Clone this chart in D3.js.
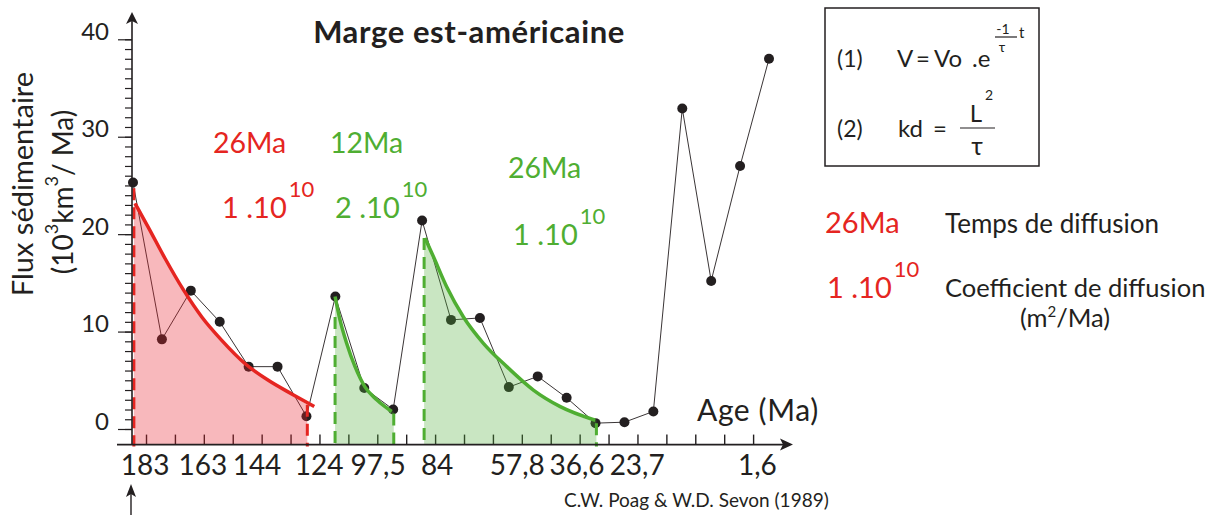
<!DOCTYPE html>
<html>
<head>
<meta charset="utf-8">
<script src="https://cdn.jsdelivr.net/npm/d3@7"></script>
<style>
  html, body { margin: 0; padding: 0; background: #fff; }
  svg { display: block; font-family: Lato, "Open Sans", sans-serif; }
</style>
</head>
<body>
<svg id="chart" width="1219" height="515"></svg>
<script>
// ---------- DATA ----------
// Sedimentary flux samples (10^3 km^3 / Ma), ordered from oldest (183 Ma) to youngest
const flux = [25.3, 9.2, 14.2, 11.0, 6.4, 6.4, 1.3, 13.6, 4.2, 2.0, 21.4, 11.2, 11.4, 4.3, 5.4, 3.2, 0.6, 0.7, 1.8, 32.9, 15.2, 27.0, 38.0];
// Age tick labels and where they sit along the sample axis (sample index)
const ageTicks = ["183", "163", "144", "124", "97,5", "84", "57,8", "36,6", "23,7", "1,6"];
const ageTickAt = [0.42, 2.42, 4.29, 6.44, 8.48, 10.52, 13.29, 15.36, 17.44, 21.6];
const yTicks = [0, 10, 20, 30, 40];

// Diffusion fit curves (sample index, flux)
const redFitAt = [0.07, 0.53, 1.11, 1.74, 2.38, 3.07, 3.88, 4.68, 5.49, 6.27];
const redFitV  = [23.15, 20.7, 17.5, 14.3, 11.5, 9.1, 6.7, 5.0, 3.6, 2.3];
const green1FitAt = [6.99, 7.16, 7.39, 7.68, 8.03, 8.43, 8.95];
const green1FitV  = [13.6, 11.2, 8.8, 6.4, 4.3, 3.0, 1.8];
const green2FitAt = [10.1, 10.39, 10.85, 11.43, 12.12, 12.93, 13.85, 14.78, 15.99];
const green2FitV  = [19.6, 17.7, 14.6, 11.5, 8.8, 6.4, 4.0, 2.3, 0.9];

// Extent of each diffusion episode (sample index) and dashed marker tops (flux)
const episodeStart = [0.03, 6.99, 10.07];
const episodeEnd   = [6.03, 9.02, 16.03];
const startTop = [24.7, 11.5, 19.6];
const endTop   = [2.5, 1.6, 0.6];

// Annotation texts
const episodeTime = ["26Ma", "12Ma", "26Ma"];
const episodeCoef = ["1 .10", "2 .10", "1 .10"];
const episodeExp  = ["10", "10", "10"];

// ---------- SETUP ----------
const RED = "#e52521", GREEN = "#4fae32", INK = "#231f20";
const svg = d3.select("#chart");
const x = d3.scaleLinear().domain([0, 22]).range([133, 769]);
const y = d3.scaleLinear().domain([0, 40]).range([429, 39.3]);
const axisY = y(-1.6);     // x axis baseline
const yAxisX = 132;

const defs = svg.append("defs");

// ---------- AXES ----------
const gy = svg.append("g").attr("transform", `translate(${yAxisX},0)`);
gy.call(d3.axisLeft(y).tickValues(d3.range(0, 41, 1)).tickSize(7).tickFormat(""))
  .call(g => g.select(".domain").remove())
  .call(g => g.selectAll("line").attr("stroke", INK).attr("stroke-width", 1.2));
const gyMaj = svg.append("g").attr("transform", `translate(${yAxisX},0)`);
gyMaj.call(d3.axisLeft(y).tickValues(yTicks).tickSize(14).tickPadding(9))
  .call(g => g.select(".domain").remove())
  .call(g => g.selectAll("line").attr("stroke", INK).attr("stroke-width", 1.2))
  .call(g => g.selectAll("text").attr("dy", "0").attr("fill", INK)
    .style("font-size", "24px").style("font-family", "Lato, sans-serif"));

const tickIdx = d3.range(0, 22).map(k => k + 0.45);
const gx = svg.append("g").attr("transform", `translate(0,${axisY})`);
gx.call(d3.axisTop(x).tickValues(tickIdx).tickSize(10).tickFormat(""))
  .call(g => g.select(".domain").remove())
  .call(g => g.selectAll("line").attr("stroke", INK).attr("stroke-width", 1.4));

// ---------- DATA LINE + POINTS ----------
const line = d3.line().x((d, i) => x(i)).y(d => y(d));
svg.append("path").datum(flux).attr("d", line)
  .attr("fill", "none").attr("stroke", "#3a3536").attr("stroke-width", 1);
svg.append("g").selectAll("circle").data(flux).join("circle")
  .attr("cx", (d, i) => x(i)).attr("cy", d => y(d)).attr("r", 5).attr("fill", INK);

// ---------- EPISODES ----------
const fits = [
  { at: redFitAt, v: redFitV, color: RED, fill: "#e8222f", op: 0.32 },
  { at: green1FitAt, v: green1FitV, color: GREEN, fill: "#52ae3a", op: 0.31 },
  { at: green2FitAt, v: green2FitV, color: GREEN, fill: "#52ae3a", op: 0.31 }
];
fits.forEach((f, k) => {
  const pts = f.at.map((a, i) => [a, f.v[i]]);
  const clipId = "clip" + k;
  defs.append("clipPath").attr("id", clipId).append("rect")
    .attr("x", x(episodeStart[k])).attr("y", 0)
    .attr("width", x(episodeEnd[k]) - x(episodeStart[k])).attr("height", 515);
  const area = d3.area().curve(d3.curveMonotoneX)
    .x(d => x(d[0])).y0(axisY).y1(d => y(d[1]));
  const ext = [[pts[0][0] - 0.3, pts[0][1]], ...pts, [pts[pts.length - 1][0] + 0.4, pts[pts.length - 1][1]]];
  svg.append("path").datum(ext).attr("d", area)
    .attr("clip-path", `url(#${clipId})`)
    .attr("fill", f.fill).attr("fill-opacity", f.op);
  [[episodeStart[k], startTop[k]], [episodeEnd[k], endTop[k]]].forEach(([a, v]) => {
    svg.append("line").attr("x1", x(a)).attr("x2", x(a))
      .attr("y1", y(v)).attr("y2", axisY + 2)
      .attr("stroke", f.color).attr("stroke-width", 3)
      .attr("stroke-dasharray", "12,7");
  });
  const fitLine = d3.line().curve(d3.curveMonotoneX).x(d => x(d[0])).y(d => y(d[1]));
  svg.append("path").datum(pts).attr("d", fitLine)
    .attr("fill", "none").attr("stroke", f.color).attr("stroke-width", 3.5);
});

// axis lines and arrows
svg.append("line").attr("x1", yAxisX).attr("x2", yAxisX).attr("y1", 20).attr("y2", axisY)
  .attr("stroke", INK).attr("stroke-width", 1.6);
svg.append("path").attr("d", `M${yAxisX},12 L${yAxisX + 6},24 L${yAxisX},21 L${yAxisX - 6},24 Z`).attr("fill", INK);
svg.append("line").attr("x1", 117).attr("x2", 785).attr("y1", axisY).attr("y2", axisY)
  .attr("stroke", INK).attr("stroke-width", 1.6);
svg.append("path").attr("d", `M793,${axisY} L780,${axisY - 6} L783,${axisY} L780,${axisY + 6} Z`).attr("fill", INK);
svg.append("line").attr("x1", 131).attr("x2", 131).attr("y1", 492).attr("y2", 515)
  .attr("stroke", INK).attr("stroke-width", 1.4);
svg.append("path").attr("d", `M131,484 L136,497 L131,494 L126,497 Z`).attr("fill", INK);

svg.append("g").selectAll("text").data(ageTicks).join("text")
  .attr("x", (d, i) => x(ageTickAt[i])).attr("y", 475)
  .attr("text-anchor", "middle").attr("fill", INK)
  .style("font-size", "28px").text(d => d);

// ---------- TEXTS ----------
svg.append("text").attr("x", 469).attr("y", 43).attr("text-anchor", "middle")
  .attr("fill", INK).style("font-size", "31px").style("font-weight", "bold")
  .style("letter-spacing", "0.6px")
  .text("Marge est-américaine");

svg.append("text").attr("transform", "translate(33,184) rotate(-90)")
  .attr("text-anchor", "middle").attr("fill", INK).style("font-size", "29px")
  .text("Flux sédimentaire");
const yl2 = svg.append("text").attr("transform", "translate(73,192) rotate(-90)")
  .attr("text-anchor", "middle").attr("fill", INK).style("font-size", "28px");
yl2.append("tspan").text("(10");
yl2.append("tspan").attr("dy", -15).style("font-size", "18px").text("3");
yl2.append("tspan").attr("dy", 15).text("km");
yl2.append("tspan").attr("dy", -15).style("font-size", "18px").text("3");
yl2.append("tspan").attr("dy", 15).text("/ Ma)");

svg.append("text").attr("x", 697).attr("y", 421).attr("fill", INK)
  .style("font-size", "30px").style("letter-spacing", "0.6px").text("Age (Ma)");

svg.append("text").attr("x", 564).attr("y", 507).attr("fill", INK)
  .style("font-size", "19px").text("C.W. Poag & W.D. Sevon (1989)");

const annPos = [
  { tx: 213, ty: 153, cx: 222, cy: 218 },
  { tx: 330, ty: 153, cx: 335, cy: 218 },
  { tx: 508, ty: 178, cx: 513, cy: 245 }
];
const annColor = [RED, GREEN, GREEN];
annPos.forEach((p, k) => {
  svg.append("text").attr("x", p.tx).attr("y", p.ty).attr("fill", annColor[k])
    .style("font-size", "28.5px").text(episodeTime[k]);
  const t = svg.append("text").attr("x", p.cx).attr("y", p.cy).attr("fill", annColor[k])
    .style("font-size", "29px");
  t.append("tspan").text(episodeCoef[k]);
  t.append("tspan").attr("dx", 2).attr("dy", -21).style("font-size", "22px").text(episodeExp[k]);
});

// legend
svg.append("text").attr("x", 825).attr("y", 233).attr("fill", RED)
  .style("font-size", "29px").text(episodeTime[0]);
svg.append("text").attr("x", 945).attr("y", 233).attr("fill", INK)
  .style("font-size", "26px").text("Temps de diffusion");
const lc = svg.append("text").attr("x", 827).attr("y", 298).attr("fill", RED).style("font-size", "29px");
lc.append("tspan").text(episodeCoef[0]);
lc.append("tspan").attr("dx", 2).attr("dy", -21).style("font-size", "22px").text(episodeExp[0]);
svg.append("text").attr("x", 945).attr("y", 297).attr("fill", INK)
  .style("font-size", "25.5px").text("Coefficient de diffusion");
const mu = svg.append("text").attr("x", 1020).attr("y", 327).attr("fill", INK).style("font-size", "25.5px");
mu.append("tspan").text("(m");
mu.append("tspan").attr("dy", -10).style("font-size", "15px").text("2");
mu.append("tspan").attr("dy", 10).text("/Ma)");

// formula box
svg.append("rect").attr("x", 825).attr("y", 8).attr("width", 214).attr("height", 158)
  .attr("fill", "none").attr("stroke", INK).attr("stroke-width", 1.5);
const fs = "24px";
svg.append("text").attr("x", 837).attr("y", 67).attr("fill", INK).style("font-size", "23px").text("(1)");
const f1 = svg.append("text").attr("y", 67).attr("fill", INK).style("font-size", fs);
f1.append("tspan").attr("x", 897).text("V");
f1.append("tspan").attr("x", 916).text("=");
f1.append("tspan").attr("x", 934).text("Vo");
f1.append("tspan").attr("x", 972).text(".e");
svg.append("text").attr("x", 1003).attr("y", 34).attr("text-anchor", "middle").attr("fill", INK).style("font-size", "14px").text("-1");
svg.append("line").attr("x1", 995).attr("x2", 1017).attr("y1", 37).attr("y2", 37).attr("stroke", INK).attr("stroke-width", 1.2);
svg.append("text").attr("x", 1002).attr("y", 52).attr("text-anchor", "middle").attr("fill", INK).style("font-size", "14px").text("τ");
svg.append("text").attr("x", 1019).attr("y", 38).attr("fill", INK).style("font-size", "15px").text("t");
svg.append("text").attr("x", 837).attr("y", 137).attr("fill", INK).style("font-size", "23px").text("(2)");
const f2 = svg.append("text").attr("y", 137).attr("fill", INK).style("font-size", fs);
f2.append("tspan").attr("x", 898).text("kd");
f2.append("tspan").attr("x", 933).text("=");
svg.append("text").attr("x", 976).attr("y", 122).attr("text-anchor", "middle").attr("fill", INK).style("font-size", fs).text("L");
svg.append("text").attr("x", 985).attr("y", 100).attr("fill", INK).style("font-size", "14px").text("2");
svg.append("line").attr("x1", 960).attr("x2", 995).attr("y1", 128).attr("y2", 128).attr("stroke", INK).attr("stroke-width", 1.2);
svg.append("text").attr("x", 977).attr("y", 155).attr("text-anchor", "middle").attr("fill", INK).style("font-size", "25px").text("τ");
</script>
</body>
</html>
